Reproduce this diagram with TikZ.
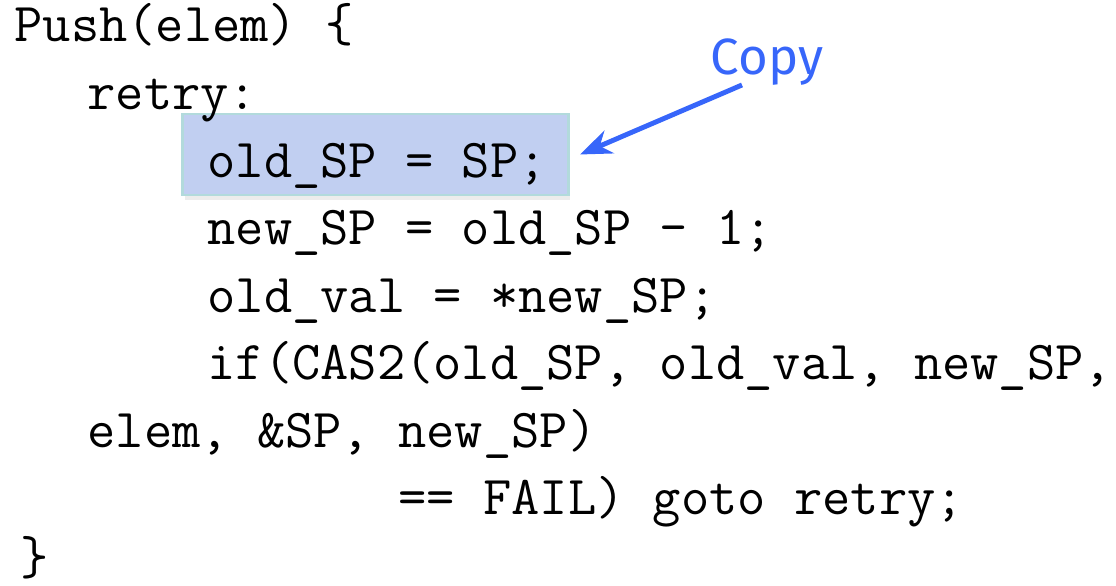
\documentclass[tikz,border=0pt]{standalone}
\usepackage{fontspec}
\newfontfamily\notefont{Fira Sans}
\usetikzlibrary{arrows.meta,positioning,shadows}
\definecolor{hlfill}{RGB}{193,207,241}
\definecolor{hlline}{RGB}{178,218,220}
\definecolor{noteblue}{RGB}{55,102,250}

\tikzset{
  code/.style={anchor=base west, inner sep=0pt, font=\ttfamily\fontsize{15.6}{18}\selectfont},
  hlbox/.style={fill=hlfill, draw=hlline, line width=0.8pt, minimum width=3.85cm, minimum height=0.81cm, inner sep=0pt,
    drop shadow={shadow xshift=0.5pt, shadow yshift=-1.5pt, opacity=0.15}},
  note/.style={inner sep=0pt, text=noteblue, font=\notefont\fontsize{14.5}{16}\selectfont}
}

\begin{document}
\begin{tikzpicture}[x=0.01cm,y=-0.01cm]
		\useasboundingbox (0,0) rectangle (1116,586);
		
		% highlighted line
		\node[hlbox] (hl) at (375.5,154.5) {};
		
		\node[code] (l1) at (14,42) {Push(elem) \{};
		\node[code] (l2) at (87,110) {retry:};
		\node[code] (l3) at (207,178) {old\_SP = SP;};
		\node[code] (l4) at (207,245) {new\_SP = old\_SP – 1;};
		\node[code] (l5) at (207,313) {old\_val = *new\_SP;};
		\node[code] (l6) at (207,380) {if(CAS2(old\_SP, old\_val, new\_SP,};
		\node[code] (l7) at (87,448) {elem, \&SP, new\_SP)};
		\node[code] (l8) at (398,515) {== FAIL) goto retry;};
		\node[code] (l9) at (20,575) {\}};
		
		% label
		\node[note] (copy) at (767,62) {Copy};
		\coordinate (tail) at (742,85);
		\draw[noteblue, line width=1.4pt, -{Stealth[length=9pt,width=7pt]}] (tail) -- ([xshift=3pt]hl.east);
	\end{tikzpicture}
\end{document}
